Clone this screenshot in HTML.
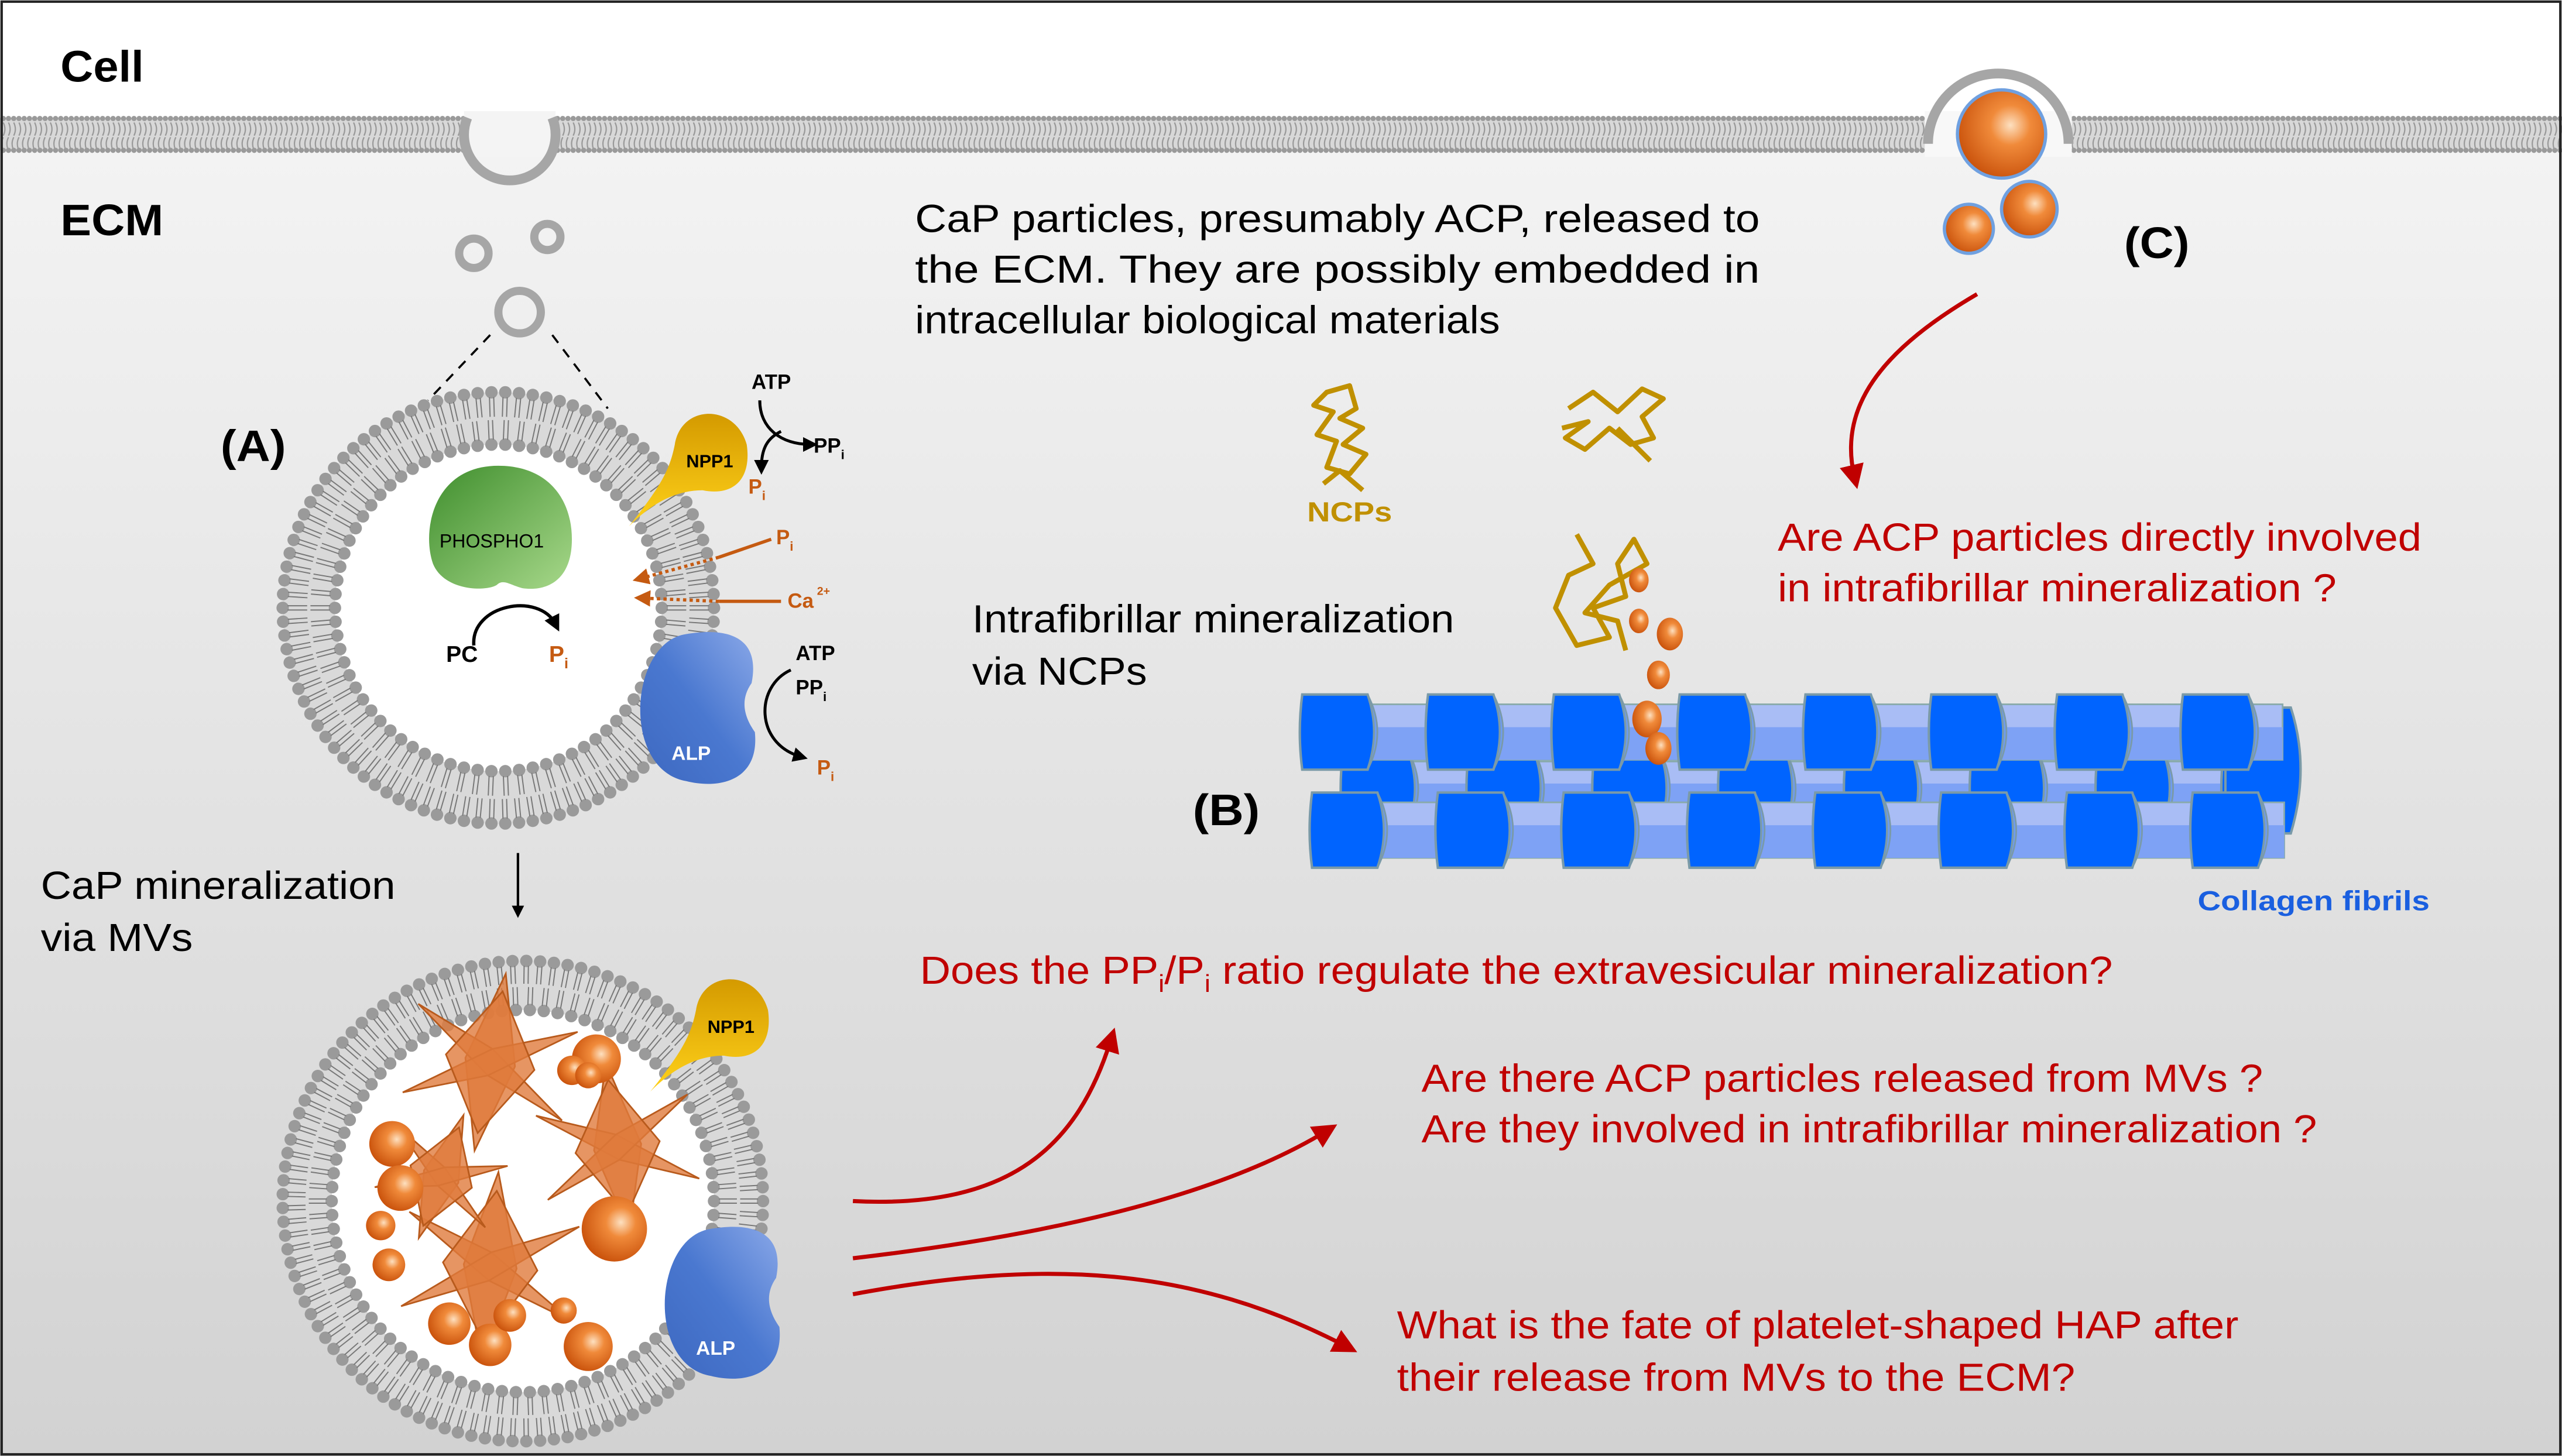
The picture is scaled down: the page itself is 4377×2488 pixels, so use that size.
<!DOCTYPE html>
<html><head><meta charset="utf-8"><style>
html,body{margin:0;padding:0;background:#fff}
svg{display:block}
text{font-family:"Liberation Sans",Arial,sans-serif}
</style></head><body>
<svg id="s" width="4377" height="2488" viewBox="0 0 1568 891" preserveAspectRatio="none" xmlns="http://www.w3.org/2000/svg">
<defs>
<linearGradient id="bg" x1="0" y1="0" x2="0" y2="1">
<stop offset="0" stop-color="#f7f7f7"/><stop offset="1" stop-color="#d2d2d2"/></linearGradient>
<radialGradient id="ball" cx="0.6" cy="0.4" r="0.65"><stop offset="0" stop-color="#fde0c0"/><stop offset="0.35" stop-color="#f08a3a"/><stop offset="1" stop-color="#c8500a"/></radialGradient>
<linearGradient id="grn" x1="0" y1="0" x2="1" y2="1"><stop offset="0" stop-color="#3f8e2d"/><stop offset="1" stop-color="#a7d88a"/></linearGradient>
<linearGradient id="yel" x1="0" y1="0" x2="0" y2="1"><stop offset="0" stop-color="#d49a00"/><stop offset="1" stop-color="#ffd21a"/></linearGradient>
<linearGradient id="blu" x1="1" y1="0" x2="0" y2="1"><stop offset="0" stop-color="#8aa8e8"/><stop offset="0.5" stop-color="#4a78d0"/><stop offset="1" stop-color="#3d68c0"/></linearGradient>
<marker id="ab" viewBox="0 0 10 10" refX="5" refY="5" markerWidth="5" markerHeight="5" orient="auto"><path d="M0,0L10,5L0,10z" fill="#000"/></marker>
<marker id="ao" viewBox="0 0 10 10" refX="5" refY="5" markerWidth="5" markerHeight="5" orient="auto"><path d="M0,0L10,5L0,10z" fill="#c55a11"/></marker>
<marker id="ar" viewBox="0 0 10 10" refX="5" refY="5" markerWidth="6" markerHeight="6" orient="auto"><path d="M0,0L10,5L0,10z" fill="#c00000"/></marker>
</defs>
<rect x="0" y="0" width="1568" height="891" fill="url(#bg)"/>
<rect x="0" y="0" width="1568" height="72" fill="#fff"/>
<g id="mem"></g>
<g id="ves"></g>
<rect x="1" y="1" width="1566" height="889" fill="none" stroke="#222" stroke-width="1.5"/>
<text x="37" y="50" font-size="27" font-weight="bold" textLength="51" lengthAdjust="spacingAndGlyphs">Cell</text>
<text x="37" y="144" font-size="27" font-weight="bold" textLength="63" lengthAdjust="spacingAndGlyphs">ECM</text>
<g fill="none" stroke="#a6a6a6" stroke-width="5">
<circle cx="290" cy="155" r="9"/><circle cx="335" cy="145" r="8"/><circle cx="318" cy="191" r="13"/></g>
<g stroke="#000" stroke-width="1.3" stroke-dasharray="6,5"><line x1="300" y1="205" x2="262" y2="245"/><line x1="338" y1="205" x2="372" y2="250"/></g>
<text x="135" y="282" font-size="27" font-weight="bold" textLength="40" lengthAdjust="spacingAndGlyphs">(A)</text>
<text x="1300" y="158" font-size="27" font-weight="bold" textLength="40" lengthAdjust="spacingAndGlyphs">(C)</text>
<text x="730" y="505" font-size="27" font-weight="bold" textLength="41" lengthAdjust="spacingAndGlyphs">(B)</text>
<path d="M1180,88 A43,43 0 1 1 1266,88" fill="none" stroke="#a6a6a6" stroke-width="6"/>
<circle cx="1225" cy="82" r="27" fill="url(#ball)" stroke="#6fa0e0" stroke-width="2"/>
<circle cx="1242" cy="128" r="17" fill="url(#ball)" stroke="#6fa0e0" stroke-width="2"/>
<circle cx="1205" cy="140" r="15" fill="url(#ball)" stroke="#6fa0e0" stroke-width="2"/>
<path d="M1210,180 C1150,215 1125,250 1135,292" fill="none" stroke="#c00000" stroke-width="2.5" marker-end="url(#ar)"/>
<g font-size="24" fill="#000">
<text x="560" y="142" textLength="517" lengthAdjust="spacingAndGlyphs">CaP particles, presumably ACP, released to</text>
<text x="560" y="173" textLength="517" lengthAdjust="spacingAndGlyphs">the ECM. They are possibly embedded in</text>
<text x="560" y="204" textLength="358" lengthAdjust="spacingAndGlyphs">intracellular biological materials</text>
<text x="595" y="387" textLength="295" lengthAdjust="spacingAndGlyphs">Intrafibrillar mineralization</text>
<text x="595" y="419" textLength="107" lengthAdjust="spacingAndGlyphs">via NCPs</text>
<text x="25" y="550" textLength="217" lengthAdjust="spacingAndGlyphs">CaP mineralization</text>
<text x="25" y="582" textLength="93" lengthAdjust="spacingAndGlyphs">via MVs</text>
</g>
<g font-size="24" fill="#c00000">
<text x="1088" y="337" textLength="394" lengthAdjust="spacingAndGlyphs">Are ACP particles directly involved</text>
<text x="1088" y="368" textLength="342" lengthAdjust="spacingAndGlyphs">in intrafibrillar mineralization ?</text>
<text x="563" y="602" textLength="730" lengthAdjust="spacingAndGlyphs">Does the PP<tspan font-size="15" dy="5">i</tspan><tspan dy="-5">/P</tspan><tspan font-size="15" dy="5">i</tspan><tspan dy="-5"> ratio regulate the extravesicular mineralization?</tspan></text>
<text x="870" y="668" textLength="515" lengthAdjust="spacingAndGlyphs">Are there ACP particles released from MVs ?</text>
<text x="870" y="699" textLength="548" lengthAdjust="spacingAndGlyphs">Are they involved in intrafibrillar mineralization ?</text>
<text x="855" y="819" textLength="515" lengthAdjust="spacingAndGlyphs">What is the fate of platelet-shaped HAP after</text>
<text x="855" y="851" textLength="415" lengthAdjust="spacingAndGlyphs">their release from MVs to the ECM?</text>
</g>
<text x="800" y="319" font-size="17" font-weight="bold" fill="#c09000" textLength="52" lengthAdjust="spacingAndGlyphs">NCPs</text>
<text x="1345" y="557" font-size="17" font-weight="bold" fill="#1a5fe0" textLength="142" lengthAdjust="spacingAndGlyphs">Collagen fibrils</text>
<g fill="none" stroke="#c09000" stroke-width="3" stroke-linejoin="round">
<path d="M812,240 L826,236 L830,250 L820,256 L834,262 L822,272 L836,278 L826,290 L812,286 L818,270 L806,266 L816,252 L804,248 Z M810,296 L820,288 L834,300"/>
<path d="M960,250 L975,240 L990,252 L1005,238 L1018,244 L1005,255 L1012,268 L998,272 L985,262 L970,275 L958,268 L972,258 L956,262 M990,262 L1010,282"/>
<path d="M965,327 L975,345 L960,352 L952,372 L965,395 L985,390 L975,372 L995,365 L990,345 L1000,330 L1008,345 L985,358 L970,375 L990,380 L995,398"/>
</g>
<line x1="317" y1="522" x2="317" y2="558" stroke="#000" stroke-width="1.5" marker-end="url(#ab)"/>
<g fill="none" stroke="#c00000" stroke-width="2.5">
<path d="M522,735 C620,740 660,700 680,636" marker-end="url(#ar)"/>
<path d="M522,770 C650,755 750,730 812,692" marker-end="url(#ar)"/>
<path d="M522,792 C640,770 730,775 824,824" marker-end="url(#ar)"/>
</g>
<g id="fib"></g>
<g id="tg"></g>
</svg>
<script>
var NS="http://www.w3.org/2000/svg";
function el(p,t,a){var e=document.createElementNS(NS,t);for(var k in a)e.setAttribute(k,a[k]);p.appendChild(e);return e;}
var mem=document.getElementById('mem');
el(mem,'rect',{x:0,y:72,width:1568,height:20,fill:'#d8d8d8'});
var d="";
for(var x=2;x<1568;x+=3.2){d+="M"+x+",75 q2,4 0,8 M"+x+",84 q-2,4 0,8 ";}
el(mem,'path',{d:d,stroke:'#999',fill:'none','stroke-width':0.8});
for(var x=2;x<1568;x+=3.2){el(mem,'circle',{cx:x,cy:72.5,r:1.6,fill:'#9a9a9a'});el(mem,'circle',{cx:x,cy:92,r:1.6,fill:'#9a9a9a'});}
el(mem,'rect',{x:284,y:68,width:56,height:28,fill:'#f4f4f4'});
el(mem,'path',{d:'M286,72 A28,28 0 1 0 338,72',fill:'none',stroke:'#a6a6a6','stroke-width':6});
el(mem,'rect',{x:1178,y:68,width:90,height:28,fill:'#f8f8f8'});
var ves=document.getElementById('ves');
function vesicle(cx,cy,R,r){
 el(ves,'circle',{cx:cx,cy:cy,r:(R+r)/2,fill:'none',stroke:'#d9d9d9','stroke-width':R-r});
 el(ves,'circle',{cx:cx,cy:cy,r:r,fill:'#fff'});
 var n=Math.round(2*Math.PI*R/8.5),dd="",m=(R+r)/2;
 for(var i=0;i<n;i++){var a=i*2*Math.PI/n,c=Math.cos(a),s=Math.sin(a);
  for(var k=-1;k<=1;k+=2){var o=k*1.3;dd+="M"+(cx+c*(R-3)-s*o)+","+(cy+s*(R-3)+c*o)+"L"+(cx+c*(m+1)-s*o)+","+(cy+s*(m+1)+c*o);}
  el(ves,'circle',{cx:cx+c*R,cy:cy+s*R,r:3.8,fill:'#9a9a9a'});}
 var n2=Math.round(2*Math.PI*r/8.5);
 for(var i=0;i<n2;i++){var a=i*2*Math.PI/n2,c=Math.cos(a),s=Math.sin(a);
  for(var k=-1;k<=1;k+=2){var o=k*1.3;dd+="M"+(cx+c*(r+3)-s*o)+","+(cy+s*(r+3)+c*o)+"L"+(cx+c*(m-1)-s*o)+","+(cy+s*(m-1)+c*o);}
  el(ves,'circle',{cx:cx+c*r,cy:cy+s*r,r:3.8,fill:'#9a9a9a'});}
 el(ves,'path',{d:dd,stroke:'#777','stroke-width':0.7,fill:'none'});
}
vesicle(305,372,132,100);
vesicle(320,735,147,117);
var tg=document.getElementById('tg');
el(tg,'path',{d:'M305,285 C335,285 350,305 350,330 C350,355 335,362 320,360 C312,358 308,354 304,358 C298,362 272,362 265,345 C258,325 265,285 305,285Z',fill:'url(#grn)'});
el(tg,'text',{x:269,y:335,'font-size':11.5}).textContent='PHOSPHO1';
el(tg,'path',{d:'M290,395 C288,370 330,362 340,382',fill:'none',stroke:'#000','stroke-width':2,'marker-end':'url(#ab)'});
el(tg,'text',{x:273,y:405,'font-size':14,'font-weight':'bold'}).textContent='PC';
var t=el(tg,'text',{x:336,y:405,'font-size':14,'font-weight':'bold',fill:'#c55a11'});t.innerHTML='P<tspan font-size="9" dy="4">i</tspan>';
function npp(x,y){el(tg,'path',{d:'M'+(x-50)+','+(y+40)+' C'+(x-30)+','+(y+15)+' '+(x-25)+','+(y+5)+' '+(x-22)+','+(y-10)+' C'+(x-18)+','+(y-35)+' '+(x+15)+','+(y-35)+' '+(x+22)+','+(y-10)+' C'+(x+25)+','+(y+10)+' '+(x+15)+','+(y+22)+' '+(x-5)+','+(y+18)+' C'+(x-25)+','+(y+18)+' '+(x-40)+','+(y+30)+' '+(x-50)+','+(y+40)+'Z',fill:'url(#yel)'});
 el(tg,'text',{x:x-15,y:y+4,'font-size':11,'font-weight':'bold'}).textContent='NPP1';}
npp(435,282);
function alp(x,y){el(tg,'path',{d:'M'+(x-5)+','+(y-45)+' C'+(x+25)+','+(y-50)+' '+(x+40)+','+(y-40)+' '+(x+35)+','+(y-15)+' C'+(x+28)+','+(y-5)+' '+(x+30)+','+(y+5)+' '+(x+37)+','+(y+15)+' C'+(x+40)+','+(y+45)+' '+(x+15)+','+(y+50)+' '+(x-5)+','+(y+45)+' C'+(x-45)+','+(y+38)+' '+(x-40)+','+(y-40)+' '+(x-5)+','+(y-45)+'Z',fill:'url(#blu)'});
 el(tg,'text',{x:x-14,y:y+32,'font-size':12,'font-weight':'bold',fill:'#fff'}).textContent='ALP';}
alp(425,433);
function lbl(x,y,s,c,sub){var t=el(tg,'text',{x:x,y:y,'font-size':12.5,'font-weight':'bold',fill:c});t.innerHTML=s+(sub?'<tspan font-size="8" dy="4">'+sub+'</tspan>':'');}
lbl(460,238,'ATP','#000');
el(tg,'path',{d:'M465,245 C465,262 478,272 496,272',fill:'none',stroke:'#000','stroke-width':1.8,'marker-end':'url(#ab)'});
lbl(498,277,'PP','#000','i');
el(tg,'path',{d:'M478,264 C470,268 466,274 466,286',fill:'none',stroke:'#000','stroke-width':1.8,'marker-end':'url(#ab)'});
lbl(458,302,'P','#c55a11','i');
lbl(475,333,'P','#c55a11','i');
lbl(482,372,'Ca','#c55a11');
el(tg,'text',{x:500,y:364,'font-size':7,fill:'#c55a11','font-weight':'bold'}).textContent='2+';
el(tg,'path',{d:'M472,330 L440,341',stroke:'#c55a11','stroke-width':2,fill:'none'});
el(tg,'path',{d:'M440,341 L392,354',stroke:'#c55a11','stroke-width':2,'stroke-dasharray':'2,2',fill:'none','marker-end':'url(#ao)'});
el(tg,'path',{d:'M478,368 L440,368',stroke:'#c55a11','stroke-width':2,fill:'none'});
el(tg,'path',{d:'M440,368 L393,366',stroke:'#c55a11','stroke-width':2,'stroke-dasharray':'2,2',fill:'none','marker-end':'url(#ao)'});
lbl(487,404,'ATP','#000');lbl(487,425,'PP','#000','i');
el(tg,'path',{d:'M484,410 C462,420 462,455 490,463',fill:'none',stroke:'#000','stroke-width':1.8,'marker-end':'url(#ab)'});
lbl(500,474,'P','#c55a11','i');
function star(cx,cy,s,rot){var g=el(tg,'g',{transform:'translate('+cx+','+cy+') rotate('+rot+')'});
 var shapes=[[0,-1,0.28,0,0,1,-0.28,0],[-0.9,-0.5,0,-0.15,0.9,0.5,0,0.15],[0.9,-0.5,0,0.15,-0.9,0.5,0,-0.15],[0,-0.8,0.5,0,0,0.8,-0.5,0]];
 shapes.forEach(function(p){var pts="";for(var i=0;i<8;i+=2)pts+=(p[i]*s)+","+(p[i+1]*s)+" ";el(g,'polygon',{points:pts,fill:'#e07a3c','fill-opacity':0.8,stroke:'#b85a1c','stroke-width':1});});}
star(300,650,55,10);star(378,702,52,-8);star(300,775,58,5);star(270,720,40,20);
var balls=[[365,648,15],[350,655,9],[360,658,8],[240,700,14],[233,750,9],[245,727,14],[238,774,10],[376,752,20],[275,810,13],[300,823,13],[312,805,10],[345,802,8],[360,824,15]];
balls.forEach(function(b){el(tg,'circle',{cx:b[0],cy:b[1],r:b[2],fill:'url(#ball)'});});
npp(448,628);alp(440,797);
var fib=document.getElementById('fib');
function row(x0,y0,h,n,sp,w){w=w||sp*n-20;el(fib,'rect',{x:x0+10,y:y0+6,width:w,height:h-12,fill:'#a9bdf5',stroke:'#8aa','stroke-width':1});
 el(fib,'rect',{x:x0+10,y:y0+h/2-3,width:w,height:h/2-3,fill:'#7ea2f5'});
 for(var i=0;i<n;i++){var x=x0+i*sp;
  el(fib,'path',{d:'M'+x+','+y0+' L'+(x+40)+','+y0+' Q'+(x+48)+','+(y0+h/2)+' '+(x+40)+','+(y0+h)+' L'+x+','+(y0+h)+' Q'+(x-3)+','+(y0+h/2)+' '+x+','+y0+'Z',fill:'#0064ff',stroke:'#7a9aa8','stroke-width':1.5});
  el(fib,'path',{d:'M'+(x+40)+','+y0+' Q'+(x+48)+','+(y0+h/2)+' '+(x+40)+','+(y0+h)+' Q'+(x+52)+','+(y0+h/2)+' '+(x+40)+','+y0+'Z',fill:'#6f9cf0',stroke:'#7a9aa8','stroke-width':1});}}
row(822,460,45,8,77,560);
el(fib,'path',{d:'M1362,433 L1402,433 Q1414,470 1402,510 L1362,510Z',fill:'#0064ff',stroke:'#7a9aa8','stroke-width':1.5});
row(797,425,46,8,77,590);
row(803,485,46,8,77,585);
[[1003,355,6],[1003,380,6],[1022,388,8],[1015,413,7],[1008,440,9],[1015,458,8]].forEach(function(b){el(fib,'ellipse',{cx:b[0],cy:b[1],rx:b[2],ry:b[2]*1.25,fill:'url(#ball)'});});
</script>
</body></html>
